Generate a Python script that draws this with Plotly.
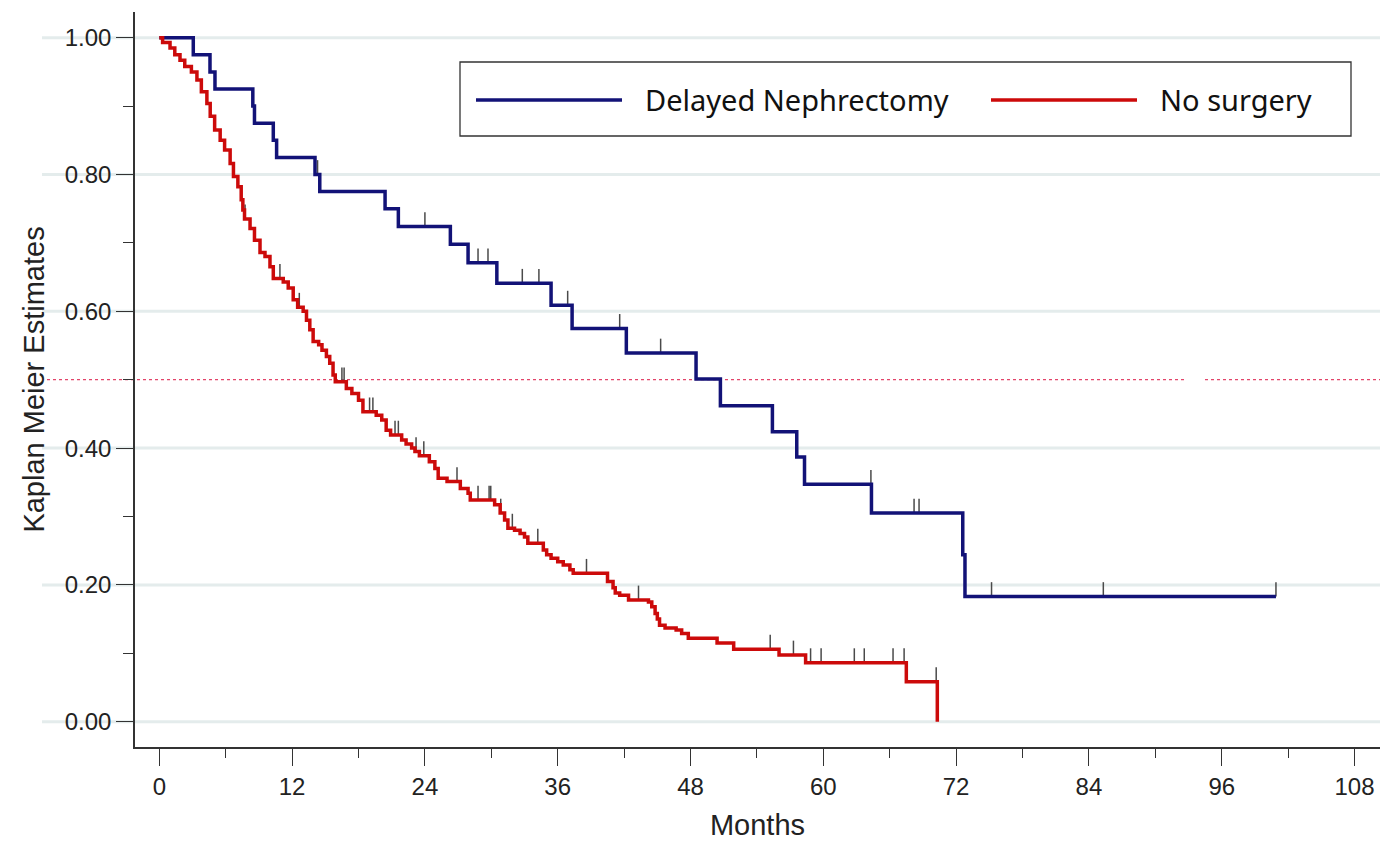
import numpy as np
import plotly.graph_objects as go

# ---------------- data ----------------
month_ticks = [0, 12, 24, 36, 48, 60, 72, 84, 96, 108]
month_minor_ticks = [6, 18, 30, 42, 54, 66, 78, 90, 102]
y_ticks = [0.0, 0.2, 0.4, 0.6, 0.8, 1.0]
y_tick_labels = ["0.00", "0.20", "0.40", "0.60", "0.80", "1.00"]
y_minor_ticks = [0.1, 0.3, 0.5, 0.7, 0.9]

# Delayed Nephrectomy: step times (months) and survival after each step
delayed_t = [0, 3.07, 4.58, 5.03, 8.45, 8.6, 10.3, 10.6, 14.07, 14.5, 20.4, 21.6,
             26.3, 27.9, 30.5, 35.4, 37.3, 42.2, 48.5, 50.7, 55.4, 57.6, 58.3,
             64.35, 72.6, 72.8]
delayed_s = [1.0, 0.975, 0.950, 0.925, 0.900, 0.875, 0.850, 0.825, 0.800, 0.775,
             0.750, 0.724, 0.698, 0.671, 0.641, 0.609, 0.575, 0.539, 0.501, 0.462,
             0.424, 0.387, 0.347, 0.305, 0.244, 0.183]
delayed_end = 100.9
delayed_censor = [14.3, 24.0, 28.8, 29.7, 32.8, 34.3, 36.9, 41.6, 45.3, 64.3,
                  68.2, 68.65, 75.2, 85.3, 100.9]

# No surgery
nosurg_t = [0, 0.3, 0.97, 1.4, 1.87, 2.3, 2.9, 3.4, 3.8, 4.3, 4.6, 5.0, 5.5, 5.9,
            6.4, 6.7, 7.1, 7.4, 7.55, 7.7, 8.2, 8.6, 9.1, 9.55, 10.0, 10.3, 11.2,
            11.65, 12.1, 12.5, 13.0, 13.3, 13.6, 13.9, 14.4, 14.7, 15.1, 15.4,
            15.7, 15.9, 16.9, 17.4, 18.0, 18.4, 19.6, 20.1, 20.5, 20.9, 21.9,
            22.3, 22.8, 23.1, 23.5, 24.4, 24.9, 25.2, 26.0, 27.2, 27.9, 28.1,
            30.3, 30.8, 31.2, 31.5, 32.1, 32.6, 33.0, 33.3, 34.7, 35.0, 35.4,
            36.0, 36.5, 37.1, 37.4, 40.5, 41.0, 41.2, 41.6, 42.4, 44.2, 44.5,
            44.8, 45.0, 45.2, 45.7, 46.7, 47.2, 47.8, 50.4, 51.9, 56.0, 58.4,
            67.5, 70.3]
nosurg_s = [1.0, 0.993, 0.985, 0.975, 0.967, 0.958, 0.950, 0.938, 0.921, 0.904,
            0.885, 0.865, 0.850, 0.836, 0.816, 0.797, 0.782, 0.763, 0.748, 0.735,
            0.721, 0.704, 0.686, 0.680, 0.665, 0.648, 0.643, 0.634, 0.617, 0.606,
            0.600, 0.587, 0.573, 0.556, 0.551, 0.543, 0.534, 0.524, 0.507, 0.497,
            0.487, 0.480, 0.470, 0.453, 0.448, 0.441, 0.426, 0.419, 0.412, 0.406,
            0.400, 0.395, 0.389, 0.380, 0.370, 0.356, 0.351, 0.341, 0.334, 0.324,
            0.317, 0.305, 0.295, 0.283, 0.280, 0.275, 0.270, 0.261, 0.251, 0.244,
            0.239, 0.234, 0.229, 0.222, 0.217, 0.205, 0.196, 0.188, 0.185, 0.178,
            0.175, 0.168, 0.158, 0.150, 0.141, 0.137, 0.134, 0.129, 0.122, 0.115,
            0.106, 0.0975, 0.0863, 0.0585, 0.0]
nosurg_end = 70.3
nosurg_censor = [7.75, 10.9, 12.65, 16.5, 16.7, 19.0, 19.3, 21.3, 21.6, 23.2,
                 23.9, 26.9, 28.8, 29.8, 29.95, 30.85, 31.9, 34.2, 38.6, 43.3,
                 55.2, 57.3, 58.85, 59.8, 62.8, 63.7, 66.3, 67.3, 70.2]

series_names = ["Delayed Nephrectomy", "No surgery"]
median_line = 0.5

# ---------------- styling ----------------
BLUE = "#121277"
RED = "#cc0a0a"
TICK_GREY = "#4a4a4a"
AXIS = "#333333"
GRID = "#e4ecec"
CENSOR_LEN = 0.021

W, H = 1400, 842
ML, MR, MT, MB = 135, 20, 12, 95
PW, PH = W - ML - MR, H - MT - MB


def px_x(px):
    return (px - ML) / PW


def px_y(py):
    return (H - MB - py) / PH


def surv_at(ts, ss, times):
    idx = np.searchsorted(np.array(ts), np.array(times), side="right") - 1
    return list(np.array(ss)[idx])


fig = go.Figure()

# censor marks (drawn first so curves sit on top of their base)
for ts, ss, cens in [(delayed_t, delayed_s, delayed_censor),
                     (nosurg_t, nosurg_s, nosurg_censor)]:
    fig.add_trace(go.Scatter(
        x=cens, y=surv_at(ts, ss, cens), mode="markers",
        marker=dict(size=1, color="rgba(0,0,0,0)"),
        error_y=dict(type="data", symmetric=False,
                     array=[CENSOR_LEN] * len(cens), arrayminus=[0] * len(cens),
                     width=0, thickness=1.5, color=TICK_GREY),
        showlegend=False, hoverinfo="skip"))

for name, ts, ss, end, col in [
        (series_names[0], delayed_t, delayed_s, delayed_end, BLUE),
        (series_names[1], nosurg_t, nosurg_s, nosurg_end, RED)]:
    fig.add_trace(go.Scatter(
        x=ts + [end], y=ss + [ss[-1]], mode="lines", name=name,
        line=dict(color=col, width=3.5, shape="hv"), showlegend=False))

shapes = []
# grid lines extending into label area
for v in y_ticks:
    shapes.append(dict(type="line", xref="paper", yref="y", x0=px_x(42), x1=1,
                       y0=v, y1=v, line=dict(color=GRID, width=3), layer="below"))
# median reference line (dotted)
for a, b in [(47, 1187), (1205, 1380)]:
    shapes.append(dict(type="line", xref="paper", yref="y", x0=px_x(a), x1=px_x(b),
                       y0=median_line, y1=median_line,
                       line=dict(color="#e2456a", width=1.3, dash="dot"), layer="below"))
# legend box
shapes.append(dict(type="rect", xref="paper", yref="paper",
                   x0=px_x(460), x1=px_x(1351), y0=px_y(136), y1=px_y(62),
                   line=dict(color=AXIS, width=1.3), fillcolor="white", layer="above"))
shapes.append(dict(type="line", xref="paper", yref="paper", x0=px_x(476), x1=px_x(622),
                   y0=px_y(100), y1=px_y(100), line=dict(color=BLUE, width=3.5)))
shapes.append(dict(type="line", xref="paper", yref="paper", x0=px_x(991), x1=px_x(1137),
                   y0=px_y(100), y1=px_y(100), line=dict(color=RED, width=3.5)))

legend_font = dict(family="Noto Sans", size=29, color="#111")
annotations = [
    dict(text=series_names[0], xref="paper", yref="paper", x=px_x(643), y=px_y(100),
         xanchor="left", yanchor="middle", showarrow=False, font=legend_font),
    dict(text=series_names[1], xref="paper", yref="paper", x=px_x(1158), y=px_y(100),
         xanchor="left", yanchor="middle", showarrow=False, font=legend_font),
]

tickfont = dict(family="Liberation Sans", size=24, color="#222")
titlefont = dict(family="Liberation Sans", size=29, color="#222")

fig.update_layout(
    width=W, height=H, margin=dict(l=ML, r=MR, t=MT, b=MB, autoexpand=False),
    paper_bgcolor="white", plot_bgcolor="white",
    shapes=shapes, annotations=annotations, showlegend=False,
    xaxis=dict(range=[(ML - 159.3) / 11.067, (W - MR - 159.3) / 11.067],
               tickmode="array", tickvals=month_ticks,
               ticktext=[str(m) for m in month_ticks],
               ticks="outside", ticklen=17, tickwidth=1.3, tickcolor=AXIS,
               showline=True, linecolor=AXIS, linewidth=1.5,
               showgrid=False, zeroline=False, tickfont=tickfont,
               minor=dict(tickmode="array", tickvals=month_minor_ticks, ticks="outside",
                          ticklen=9, tickwidth=1.3, tickcolor=AXIS, showgrid=False),
               title=dict(text="Months", font=titlefont, standoff=16)),
    yaxis=dict(range=[-0.037, 1.0376],
               tickmode="array", tickvals=y_ticks, ticktext=y_tick_labels,
               ticks="outside", ticklen=17, tickwidth=1.3, tickcolor=AXIS,
               showline=True, linecolor=AXIS, linewidth=1.5,
               showgrid=False, zeroline=False, tickfont=tickfont,
               minor=dict(tickmode="array", tickvals=y_minor_ticks, ticks="outside",
                          ticklen=10, tickwidth=1.3, tickcolor=AXIS, showgrid=False),
               title=dict(text="Kaplan Meier Estimates", font=titlefont, standoff=12)),
)

fig.write_html("out.html")
